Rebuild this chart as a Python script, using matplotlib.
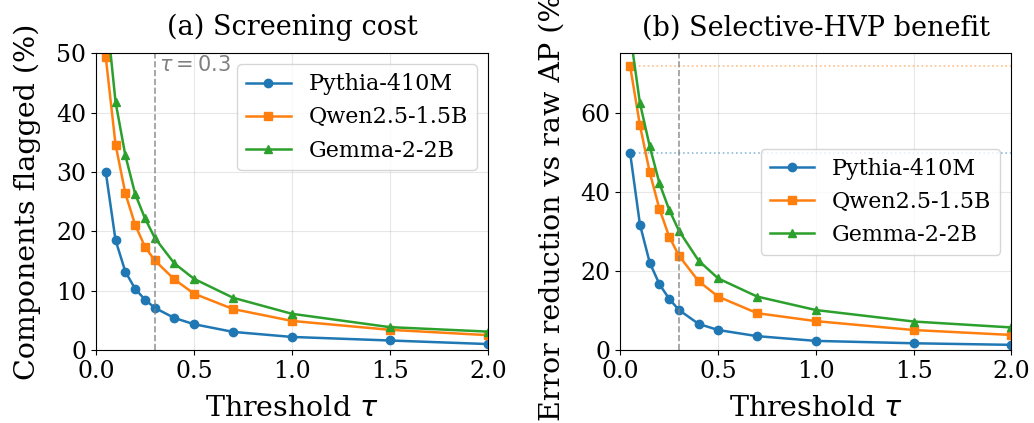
import numpy as np
import matplotlib
matplotlib.use('Agg')
from matplotlib import pyplot as plt

plt.rcParams['font.family'] = 'DejaVu Serif'
plt.rcParams['font.size'] = 18
plt.rcParams['xtick.labelsize'] = 17
plt.rcParams['ytick.labelsize'] = 17

thresholds = [0.05, 0.1, 0.15, 0.2, 0.25, 0.3, 0.4, 0.5, 0.7, 1.0, 1.5, 2.0]
models = ['Pythia-410M', 'Qwen2.5-1.5B', 'Gemma-2-2B']

# (a) fraction of components flagged (%)
flag_pythia = [30.0, 18.5, 13.2, 10.3, 8.5, 7.1, 5.4, 4.35, 3.05, 2.2, 1.6, 1.0]
flag_qwen = [49.4, 34.6, 26.4, 21.1, 17.4, 15.1, 11.9, 9.5, 6.9, 4.9, 3.4, 2.5]
flag_gemma = [58.0, 41.8, 32.8, 26.3, 22.2, 18.9, 14.6, 12.0, 8.8, 6.1, 3.85, 3.1]

# (b) error reduction vs raw AP (%)
err_pythia = [49.7, 31.7, 22.1, 16.6, 12.9, 10.1, 6.6, 5.05, 3.5, 2.3, 1.7, 1.3]
err_qwen = [71.7, 56.8, 44.9, 35.6, 28.6, 23.8, 17.4, 13.5, 9.3, 7.3, 5.05, 3.8]
err_gemma = [80.0, 62.4, 51.5, 42.1, 35.4, 30.1, 22.6, 18.1, 13.5, 10.1, 7.2, 5.7]

colors = ['tab:blue', 'tab:orange', 'tab:green']
markers = ['o', 's', '^']

fig = plt.figure(figsize=(10.34, 4.23), dpi=100)
ax1 = fig.add_axes([0.0928, 0.1726, 0.379, 0.7014])
ax2 = fig.add_axes([0.600, 0.1726, 0.378, 0.7014])

for vals, c, m, name in zip([flag_pythia, flag_qwen, flag_gemma], colors, markers, models):
    ax1.plot(thresholds, vals, color=c, marker=m, lw=1.8, ms=6, label=name)
ax1.axvline(0.3, color='gray', ls='--', lw=1.2, alpha=0.8)
ax1.text(0.32, 49.7, r'$\tau=0.3$', color='gray', fontsize=15, va='top')
ax1.set_xlim(0, 2.0)
ax1.set_ylim(0, 50)
ax1.set_xlabel(r'Threshold $\tau$', fontsize=20.5, labelpad=9)
ax1.set_ylabel('Components flagged (%)', fontsize=20.5, labelpad=11)
ax1.set_title('(a) Screening cost', fontsize=19.5, pad=13)
ax1.grid(alpha=0.3)
ax1.legend(loc='upper right', fontsize=16)

for vals, c, m, name in zip([err_pythia, err_qwen, err_gemma], colors, markers, models):
    ax2.plot(thresholds, vals, color=c, marker=m, lw=1.8, ms=6, label=name)
    ax2.hlines(vals[0], thresholds[0], thresholds[-1], color=c, ls=':', lw=1.2, alpha=0.5)
ax2.axvline(0.3, color='gray', ls='--', lw=1.2, alpha=0.8)
ax2.set_xlim(0, 2.0)
ax2.set_ylim(0, 75)
ax2.set_xlabel(r'Threshold $\tau$', fontsize=20.5, labelpad=9)
ax2.set_ylabel('Error reduction vs raw AP (%)', fontsize=20.5, labelpad=11)
ax2.set_title('(b) Selective-HVP benefit', fontsize=19.5, pad=13)
ax2.grid(alpha=0.3)
ax2.legend(loc='center right', fontsize=16)

plt.savefig('out.png', dpi=100)
